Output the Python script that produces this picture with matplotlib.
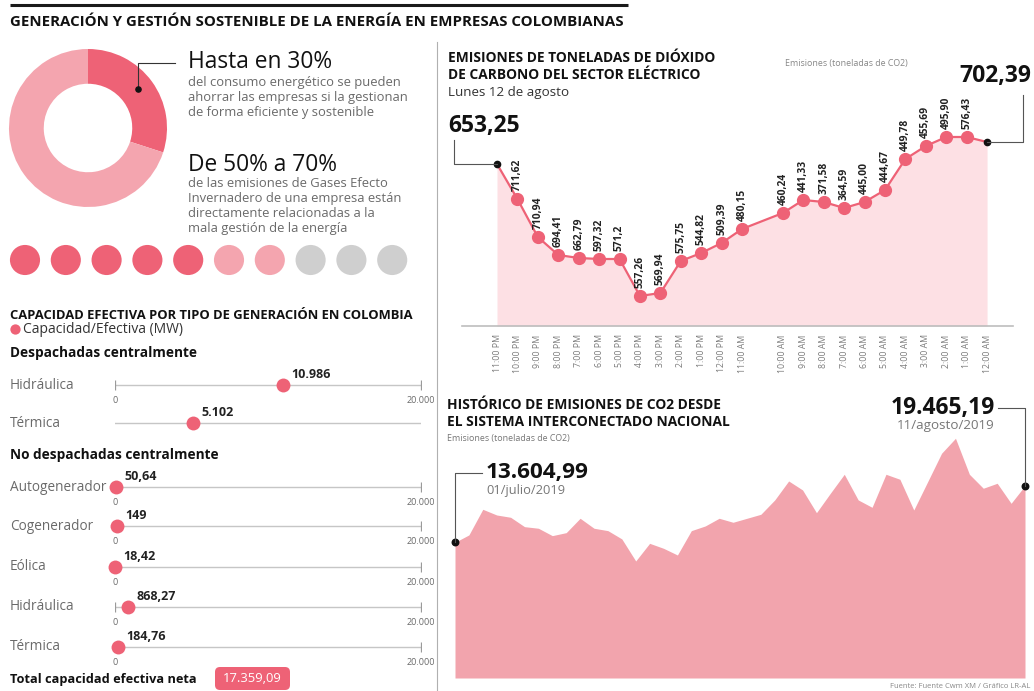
import matplotlib
matplotlib.use('Agg')
import matplotlib.pyplot as plt
from matplotlib.patches import FancyBboxPatch

plt.rcParams['font.family'] = ['Open Sans', 'DejaVu Sans']
NARROW = ['Liberation Sans Narrow', 'Open Sans', 'DejaVu Sans']

# ---------------- DATA ----------------
donut_valores = [30, 70]
circulos_conteo = [5, 2, 3]          # alto, medio, bajo

desp_tipos = ['Hidráulica', 'Térmica']
desp_mw = [10986, 5102]
desp_txt = ['10.986', '5.102']

nodesp_tipos = ['Autogenerador', 'Cogenerador', 'Eólica', 'Hidráulica', 'Térmica']
nodesp_mw = [50.64, 149, 18.42, 868.27, 184.76]
nodesp_txt = ['50,64', '149', '18,42', '868,27', '184,76']
total_txt = '17.359,09'
escala_max = 20000

horas = ['11:00 PM', '10:00 PM', '9:00 PM', '8:00 PM', '7:00 PM', '6:00 PM', '5:00 PM',
         '4:00 PM', '3:00 PM', '2:00 PM', '1:00 PM', '12:00 PM', '11:00 AM',
         '10:00 AM', '9:00 AM', '8:00 AM', '7:00 AM', '6:00 AM', '5:00 AM', '4:00 AM',
         '3:00 AM', '2:00 AM', '1:00 AM', '12:00 AM']
hora_slot = [0, 1, 2, 3, 4, 5, 6, 7, 8, 9, 10, 11, 12,
             14, 15, 16, 17, 18, 19, 20, 21, 22, 23, 24]
nivel_grafico = [162, 127, 89, 71, 68, 67, 67, 30, 33, 65, 73, 83, 97,
                 113, 126, 124, 118, 124, 136, 167, 180, 189, 189, 184]
emis_hora_txt = ['653,25', '711,62', '710,94', '694,41', '662,79', '597,32', '571,2',
                 '557,26', '569,94', '575,75', '544,82', '509,39', '480,15',
                 '460,24', '441,33', '371,58', '364,59', '445,00', '444,67', '449,78',
                 '455,69', '495,90', '576,43', '702,39']

emis_diarias = [13605, 14340, 16910, 16340, 16110, 15170, 15010, 14270, 14570, 16010,
                15010, 14770, 13940, 11730, 13500, 13000, 12330, 14770, 15240, 16010,
                15610, 16010, 16410, 17850, 19750, 18850, 16570, 18520, 20420, 17850,
                17110, 20420, 19920, 16840, 19680, 22530, 24030, 20420, 19020, 19520,
                17510, 19280]
dias = list(range(len(emis_diarias)))

# ---------------- STYLE ----------------
ROJO = '#ee6276'
ROSA = '#f4a5af'
GRIS_C = '#cfcfcf'
ROSA_CLARO = '#fde0e4'
AREA = '#f2a4ad'
TXT_G = '#6a6a6a'

W, H = 1034, 691
fig = plt.figure(figsize=(W / 100, H / 100), dpi=100)
fig.patch.set_facecolor('white')


def px_axes(x0, y0, x1, y1, z=1):
    ax = fig.add_axes([x0 / W, 1 - y1 / H, (x1 - x0) / W, (y1 - y0) / H], zorder=z)
    ax.patch.set_alpha(0)
    return ax


# ---------------- DONUT ----------------
axd = px_axes(9, 49, 167, 207)
axd.pie(donut_valores, colors=[ROJO, ROSA], startangle=90, counterclock=False,
        radius=1, wedgeprops=dict(width=0.44, edgecolor='none'))
axd.set_xlim(-1, 1)
axd.set_ylim(-1, 1)
axd.set_aspect('auto')

# ---------------- CIRCLES ----------------
axc = px_axes(5, 240, 412, 280)
cols = [ROJO] * circulos_conteo[0] + [ROSA] * circulos_conteo[1] + [GRIS_C] * circulos_conteo[2]
axc.scatter(range(len(cols)), [0] * len(cols), s=470, color=cols, linewidths=0)
axc.set_xlim(-0.49, 9.485)
axc.set_ylim(-1, 1)
axc.axis('off')

# ---------------- CAPACITY ROWS ----------------
row_y_desp = [385, 423]
row_y_nod = [487, 526, 567, 607, 647]


def cap_row(y, mw, txt, ends=True):
    ax = px_axes(115, y - 10, 421, y + 10, z=2)
    ax.set_xlim(0, escala_max)
    ax.set_ylim(-1, 1)
    ax.axis('off')
    ax.plot([0, escala_max], [0, 0], color='#c6c6c6', lw=1, zorder=1)
    if ends:
        ax.plot([0, escala_max], [0, 0], ls='none', marker='|', ms=7, mew=0.9,
                color='#9a9a9a', zorder=1)
        ax.annotate('0', (0, 0), xytext=(0, -11), textcoords='offset points',
                    ha='center', va='center', fontsize=6.5, color=TXT_G,
                    family=NARROW, annotation_clip=False)
        ax.annotate('20.000', (escala_max, 0), xytext=(0, -11), textcoords='offset points',
                    ha='center', va='center', fontsize=6.5, color=TXT_G,
                    family=NARROW, annotation_clip=False)
    ax.scatter([mw], [0], s=100, color=ROJO, linewidths=0, zorder=3, clip_on=False)
    ax.annotate(txt, (mw, 0), xytext=(6, 3), textcoords='offset points',
                ha='left', va='bottom', fontsize=9, fontweight='bold', color='#222',
                family=['Liberation Sans Narrow', 'Open Sans'],
                annotation_clip=False)


for i, (y, mw, t) in enumerate(zip(row_y_desp, desp_mw, desp_txt)):
    cap_row(y, mw, t, ends=(i == 0))
for y, mw, t in zip(row_y_nod, nodesp_mw, nodesp_txt):
    cap_row(y, mw, t, ends=True)

# ---------------- LINE CHART (hourly) ----------------
x0_px, step_px = 497, 20.42
axl = px_axes(462, 100, 1013, 326)
axl.fill_between(hora_slot, nivel_grafico, 0, color=ROSA_CLARO, lw=0, zorder=1)
axl.plot(hora_slot, nivel_grafico, color=ROJO, lw=1.6, zorder=2)
axl.plot(hora_slot[1:-1], nivel_grafico[1:-1], ls='none', marker='o', ms=8.5,
         color=ROJO, zorder=3)
axl.plot([hora_slot[0], hora_slot[-1]], [nivel_grafico[0], nivel_grafico[-1]],
         ls='none', marker='o', ms=4.5, color='#111', zorder=4)
for s, n, t in zip(hora_slot[1:-1], nivel_grafico[1:-1], emis_hora_txt[1:-1]):
    axl.annotate(t, (s, n), xytext=(0, 6), textcoords='offset points', rotation=90,
                 ha='center', va='bottom', fontsize=7.4, fontweight='bold',
                 color='#222', family=NARROW)
axl.set_xlim((462 - x0_px) / step_px, (1013 - x0_px) / step_px)
axl.set_ylim(0, 226)
for sp in ['top', 'right', 'left']:
    axl.spines[sp].set_visible(False)
axl.spines['bottom'].set_color('#bdbdbd')
axl.spines['bottom'].set_linewidth(1.2)
axl.set_yticks([])
axl.set_xticks(hora_slot)
axl.set_xticklabels(horas, rotation=90, fontsize=6.3, color='#7a7a7a', family=NARROW)
axl.tick_params(axis='x', length=0, pad=6)

# ---------------- AREA CHART (daily) ----------------
axa = px_axes(455, 428.6, 1025, 678)
axa.fill_between(dias, emis_diarias, 0, color=AREA, lw=0)
axa.scatter([dias[0], dias[-1]], [emis_diarias[0], emis_diarias[-1]], s=22,
            color='#111', zorder=3, clip_on=False)
axa.set_xlim(0, dias[-1])
axa.set_ylim(0, 25000)
axa.axis('off')

# ---------------- OVERLAY TEXT ----------------
ov = fig.add_axes([0, 0, 1, 1], zorder=10)
ov.set_xlim(0, W)
ov.set_ylim(H, 0)
ov.axis('off')
ov.patch.set_alpha(0)

ov.plot([10, 628], [5, 5], color='#1a1a1a', lw=2.2, solid_capstyle='butt')
ov.text(10, 22, 'GENERACIÓN Y GESTIÓN SOSTENIBLE DE LA ENERGÍA EN EMPRESAS COLOMBIANAS',
        fontsize=10.8, fontweight='bold', va='center', color='#111')
ov.plot([437, 437], [42, 690], color='#b0b0b0', lw=0.8)

# donut callout
ov.plot([138, 138, 175], [89, 63, 63], color='#333', lw=0.8)
ov.scatter([138], [89], s=14, color='#111', zorder=5)
ov.text(188, 62, 'Hasta en 30%', fontsize=16.4, va='center', color='#111')
for i, line in enumerate(['del consumo energético se pueden',
                          'ahorrar las empresas si la gestionan',
                          'de forma eficiente y sostenible']):
    ov.text(188, 82 + 15 * i, line, fontsize=9.4, va='center', color=TXT_G)
ov.text(188, 165, 'De 50% a 70%', fontsize=16.4, va='center', color='#111')
for i, line in enumerate(['de las emisiones de Gases Efecto',
                          'Invernadero de una empresa están',
                          'directamente relacionadas a la',
                          'mala gestión de la energía']):
    ov.text(188, 183 + 15.2 * i, line, fontsize=9.4, va='center', color=TXT_G)

# capacity section
ov.text(10, 315, 'CAPACIDAD EFECTIVA POR TIPO DE GENERACIÓN EN COLOMBIA',
        fontsize=9.4, fontweight='bold', va='center', color='#111')
ov.scatter([15], [329], s=55, color=ROJO, linewidths=0)
ov.text(23, 329, 'Capacidad/Efectiva (MW)', fontsize=10, va='center', color='#333')
ov.text(10, 353, 'Despachadas centralmente', fontsize=9.8, fontweight='bold',
        va='center', color='#111')
for y, t in zip(row_y_desp, desp_tipos):
    ov.text(10, y, t, fontsize=9.8, va='center', color=TXT_G)
ov.text(10, 455, 'No despachadas centralmente', fontsize=9.8, fontweight='bold',
        va='center', color='#111')
for y, t in zip(row_y_nod, nodesp_tipos):
    ov.text(10, y, t, fontsize=9.8, va='center', color=TXT_G)
ov.text(10, 679, 'Total capacidad efectiva neta', fontsize=9.2, fontweight='bold',
        va='center', color='#111')
ov.add_patch(FancyBboxPatch((215, 667), 75, 23, boxstyle='round,pad=0,rounding_size=5',
                            fc=ROJO, ec='none'))
ov.text(252.5, 678.5, total_txt, fontsize=9.4, color='white', ha='center', va='center')

# hourly chart titles and callouts
ov.text(448, 58, 'EMISIONES DE TONELADAS DE DIÓXIDO', fontsize=9.9, fontweight='bold',
        va='center', color='#111')
ov.text(448, 75, 'DE CARBONO DEL SECTOR ELÉCTRICO', fontsize=9.9, fontweight='bold',
        va='center', color='#111')
ov.text(448, 92, 'Lunes 12 de agosto', fontsize=9.6, va='center', color='#333')
ov.text(785, 63, 'Emisiones (toneladas de CO2)', fontsize=6.4, va='center', color='#888',
        family=NARROW)
ov.text(448, 126, emis_hora_txt[0], fontsize=16.5, fontweight='bold', va='center', color='#111')
ov.plot([454, 454, 497], [140, 164, 164], color='#555', lw=0.8)
ov.text(1031, 76, emis_hora_txt[-1], fontsize=16.5, fontweight='bold', va='center',
        ha='right', color='#111')
ov.plot([1023, 1023, 987], [95, 142, 142], color='#555', lw=0.8)

# daily chart titles and callouts
ov.text(447, 405, 'HISTÓRICO DE EMISIONES DE CO2 DESDE', fontsize=9.9, fontweight='bold',
        va='center', color='#111')
ov.text(447, 422, 'EL SISTEMA INTERCONECTADO NACIONAL', fontsize=9.9, fontweight='bold',
        va='center', color='#111')
ov.text(447, 438, 'Emisiones (toneladas de CO2)', fontsize=6.4, va='center', color='#777',
        family=NARROW)
ov.text(486, 472, '13.604,99', fontsize=16.2, fontweight='bold', va='center', color='#111')
ov.text(486, 490, '01/julio/2019', fontsize=9.3, va='center', color='#777')
ov.plot([455, 455, 482], [542, 473, 473], color='#555', lw=0.8)
ov.text(995, 408, '19.465,19', fontsize=16.5, fontweight='bold', va='center', ha='right',
        color='#111')
ov.text(995, 425, '11/agosto/2019', fontsize=9.6, va='center', ha='right', color='#777')
ov.plot([998, 1025, 1025], [408, 408, 486], color='#555', lw=0.8)
ov.text(1030, 686, 'Fuente: Fuente Cwm XM / Gráfico LR-AL', fontsize=5.5, ha='right',
        va='center', color='#888', family=NARROW)

fig.savefig('out.png', dpi=100, facecolor='white')
